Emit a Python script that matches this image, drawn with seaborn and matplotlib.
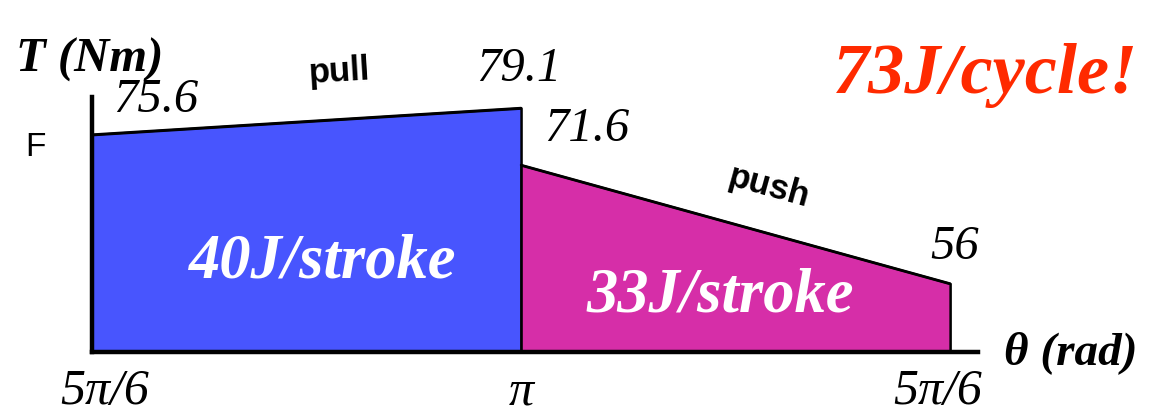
import numpy as np
import pandas as pd
import matplotlib
matplotlib.use("Agg")
import matplotlib.pyplot as plt
import matplotlib.transforms as mtransforms
import seaborn as sns

# Torque at the start and end of each stroke (Nm)
stroke_names = ["pull", "push"]
angle_ticks = ["5π/6", "π", "5π/6"]
pull_torque = [75.6, 79.1]
push_torque = [71.6, 56.0]
stroke_energy = [40, 33]          # J per stroke
cycle_energy = 73                 # J per cycle
stroke_colors = ["#4855FE", "#D62EA8"]

sns.set_theme(style="white")
plt.rcParams["font.family"] = ["Liberation Serif", "DejaVu Serif"]
plt.rcParams["text.color"] = "black"

W, H = 1157, 416
fig = plt.figure(figsize=(W / 100, H / 100), dpi=100)
ax = fig.add_axes([92 / W, 64 / H, 886 / W, 255 / H])

y_floor = 47.0
ax.set_xlim(0, 2.065)
ax.set_ylim(y_floor, y_floor + 255 / 7.6)

df = pd.DataFrame({
    "pos": [0, 1, 1, 2],
    "torque": pull_torque + push_torque,
    "stroke": ["pull", "pull", "push", "push"],
})

for i, name in enumerate(stroke_names):
    seg = df[df["stroke"] == name]
    ax.fill_between(seg["pos"], y_floor, seg["torque"], facecolor=stroke_colors[i],
                    edgecolor="black", linewidth=1.8, clip_on=False, zorder=2)
    sns.lineplot(data=seg, x="pos", y="torque", color="black", linewidth=1.8,
                 ax=ax, clip_on=False, zorder=3)

ax.set_xlabel("")
ax.set_ylabel("")
ax.set_yticks([])
ax.set_xticks([0, 1, 2])
ax.set_xticklabels(angle_ticks, fontsize=36, style="italic")
ax.tick_params(axis="x", length=0, pad=12, labelcolor="black")
tick_shift = [13, 0, -12]
for lbl, dx in zip(ax.get_xticklabels(), tick_shift):
    lbl.set_transform(lbl.get_transform() +
                      mtransforms.ScaledTranslation(dx / 100, 0, fig.dpi_scale_trans))
for s in ["top", "right"]:
    ax.spines[s].set_visible(False)
for s in ["left", "bottom"]:
    ax.spines[s].set_linewidth(3.2)
    ax.spines[s].set_color("black")
    ax.spines[s].set_zorder(4)

num_style = dict(fontsize=35, style="italic", color="black", ha="center", va="center",
                 textcoords="offset points", annotation_clip=False)
label_offsets = [(46, 25), (-1.5, 28)]
for x, v, off in zip([0, 1], pull_torque, label_offsets):
    ax.annotate(f"{v:g}", (x, v), xytext=off, **num_style)
label_offsets = [(47.5, 26), (3, 26)]
for x, v, off in zip([1, 2], push_torque, label_offsets):
    ax.annotate(f"{v:g}", (x, v), xytext=off, **num_style)


def line_angle(x0, y0, x1, y1):
    p0 = ax.transData.transform((x0, y0))
    p1 = ax.transData.transform((x1, y1))
    return np.degrees(np.arctan2(p1[1] - p0[1], p1[0] - p0[0]))


segments = [(0, pull_torque), (1, push_torque)]
name_offsets = [(24, 36), (24, 27)]
for (x0, tq), name, off in zip(segments, stroke_names, name_offsets):
    ang = line_angle(x0, tq[0], x0 + 1, tq[1])
    ax.annotate(name, (x0 + 0.5, (tq[0] + tq[1]) / 2), xytext=off,
                textcoords="offset points", ha="center", va="center",
                rotation=ang, rotation_mode="anchor", fontsize=25, color="black",
                fontweight="bold", family="Liberation Sans", annotation_clip=False)


def fpos(px, py):
    return px / W, 1 - py / H


fig.text(*fpos(323, 262), f"{stroke_energy[0]}J/stroke", fontsize=45, style="italic",
         fontweight="bold", color="white", ha="center", va="center", zorder=5)
fig.text(*fpos(720, 297), f"{stroke_energy[1]}J/stroke", fontsize=45, style="italic",
         fontweight="bold", color="white", ha="center", va="center", zorder=5)
fig.text(*fpos(986, 76), f"{cycle_energy}J/cycle!", fontsize=52, style="italic",
         fontweight="bold", color="#FF2A00", ha="center", va="center")
fig.text(*fpos(90, 60), "T (Nm)", fontsize=35, style="italic", fontweight="bold",
         ha="center", va="center", color="black")
fig.text(*fpos(35, 148), "F", fontsize=24, family="Liberation Sans",
         ha="center", va="center", color="black")
fig.text(*fpos(1004, 353), "θ (rad)", fontsize=34, style="italic", fontweight="bold",
         ha="left", va="center", color="black")

fig.savefig("out.png", dpi=100)
